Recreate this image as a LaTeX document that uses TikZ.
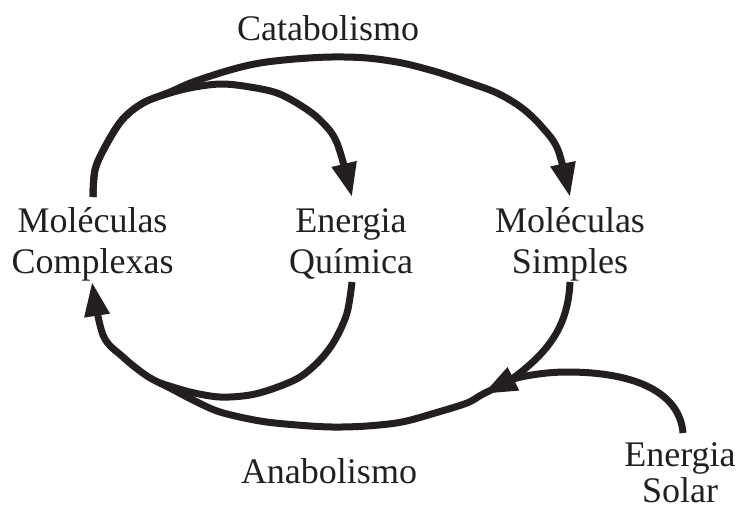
\documentclass[tikz,border=0pt]{standalone}
\usepackage{fontspec}
\setmainfont{Liberation Serif}
\usetikzlibrary{arrows.meta}
\definecolor{ink}{RGB}{35,31,32}
\tikzset{
  lbl/.style={text=ink, font=\fontsize{36}{41}\selectfont, align=center, inner sep=0pt},
  flow/.style={draw=ink, line width=7pt, line join=round},
  tipped/.style={flow, -{Triangle[length=34pt,width=24pt]}},
}
\begin{document}
\begin{tikzpicture}[x=1pt,y=-1pt]
\useasboundingbox (0,0) rectangle (739,509);

% labels
\node[lbl, anchor=base] (cat) at (328,40) {Catabolismo};
\node[lbl, anchor=base] (ana) at (329,483) {Anabolismo};
\node[lbl] (cplx) at (92.5,244) {Moléculas\\Complexas};
\node[lbl] (quim) at (351,244) {Energia\\Química};
\node[lbl] (simp) at (570,244) {Moléculas\\Simples};
\node[lbl, font=\fontsize{36}{36}\selectfont] (sol) at (680,473) {Energia\\Solar};

% end points of the connectors
\coordinate (cplxTop) at (93,197);
\coordinate (cplxIn) at (92,282);
\coordinate (quimIn) at (352,197);
\coordinate (quimOut) at (352,282);
\coordinate (simpIn) at (570,197);
\coordinate (simpOut) at (570,282);
\coordinate (solOut) at (683,433);
\coordinate (join) at (483,394);
\coordinate (joinIn) at (508,382);
\coordinate (merge) at (160,383);

% catabolism: complex molecules to simple molecules
\draw[tipped] plot[smooth, tension=0.55] coordinates {(cplxTop) (95,170) (105,147) (122,120) (143,103) (170,92) (193,82) (230,70) (260,63) (295,59) (332,57) (367,58) (402,63) (437,72) (467,82) (497,93) (522,108) (542,127) (558,150) (simpIn)};

% catabolism: complex molecules to chemical energy
\draw[tipped] plot[smooth, tension=0.55] coordinates {(cplxTop) (95,170) (105,147) (122,120) (143,103) (170,93) (195,87) (222,84) (250,87) (277,93) (300,105) (320,120) (337,143) (quimIn)};

% anabolism: back to complex molecules
\draw[tipped] plot[smooth, tension=0.55] coordinates {(joinIn) (join) (467,403) (435,413) (402,422) (367,426) (332,427) (297,425) (260,421) (220,412) (193,400) (170,388) (147,376) (123,357) (103,335) (cplxIn)};

% chemical energy used by anabolism
\draw[flow] plot[smooth, tension=0.55] coordinates {(quimOut) (347,313) (335,340) (320,360) (300,377) (275,388) (250,395) (220,397) (190,392) (merge)};

% simple molecules into the anabolic branch
\draw[flow] (simpOut) .. controls (568,330) and (545,355) .. (joinIn);

% solar energy feeding the anabolic branch
\draw[tipped] (solOut) .. controls (680,395) and (640,372) .. (567,372)
  .. controls (540,372) and (515,378) .. (join);
\end{tikzpicture}
\end{document}
